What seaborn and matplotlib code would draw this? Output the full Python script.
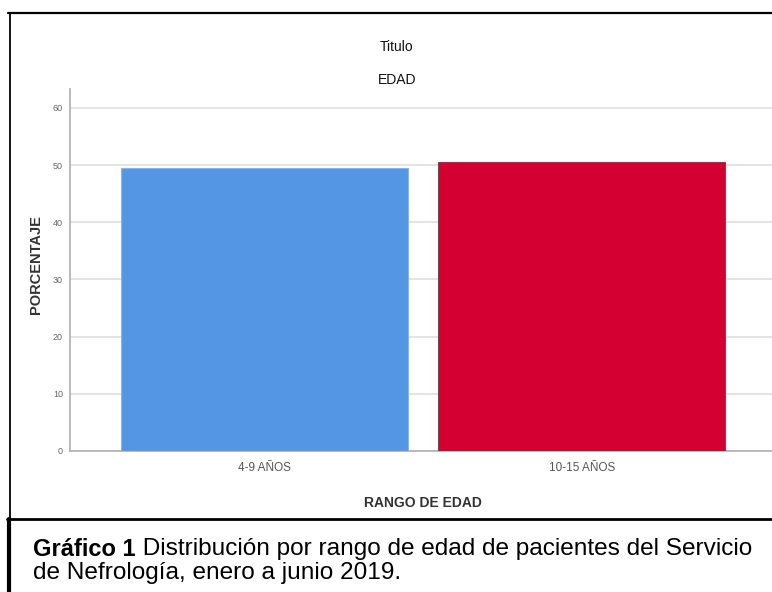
import matplotlib
matplotlib.use("Agg")
import matplotlib.pyplot as plt
import pandas as pd
import seaborn as sns
from matplotlib.lines import Line2D

# data
categorias = ["4-9 AÑOS", "10-15 AÑOS"]
porcentajes = [49.4, 50.6]
colores = ["#5596E4", "#D50032"]

W, H = 772, 592

def fx(px):
    return px / W

def fy(py):
    return 1 - py / H

sns.set_theme(style="white")
plt.rcParams["font.family"] = ["Liberation Sans", "DejaVu Sans"]

fig = plt.figure(figsize=(W / 100, H / 100), dpi=100)
ax = fig.add_axes([fx(70), fy(451), fx(776) - fx(70), fy(89) - fy(451)])

df = pd.DataFrame({"RANGO DE EDAD": categorias, "PORCENTAJE": porcentajes})
sns.barplot(data=df, x="RANGO DE EDAD", y="PORCENTAJE", hue="RANGO DE EDAD",
            palette=colores, saturation=1, width=0.905, legend=False, ax=ax, zorder=3)
for patch, ec in zip(ax.patches, ["#8fb3e0", "#6e4a50"]):
    patch.set_edgecolor(ec)
    patch.set_linewidth(0.8)

ax.set_xlim(-0.612, 1.612)
ax.set_ylim(0, 63.3)
ax.set_yticks([0, 10, 20, 30, 40, 50, 60])
ax.yaxis.grid(True, color="#dcdcdc", linewidth=1.1, zorder=0)
ax.set_axisbelow(True)
for s in ["top", "right"]:
    ax.spines[s].set_visible(False)
for s in ["left", "bottom"]:
    ax.spines[s].set_color("#b4b4b4")
    ax.spines[s].set_linewidth(1.3)
ax.tick_params(axis="y", length=0, pad=5, labelsize=6.5, labelcolor="#666666")
ax.tick_params(axis="x", length=0, pad=8, labelsize=8.5, labelcolor="#555555")

ax.set_xlabel("RANGO DE EDAD", fontsize=10, fontweight="bold", color="#333333", labelpad=16)
ax.set_ylabel("PORCENTAJE", fontsize=10.5, fontweight="bold", color="#333333", labelpad=7)
ax.yaxis.label.set_y(0.514)

fig.text(fx(397), fy(47), "Titulo", ha="center", va="center", fontsize=10, color="#111111")
fig.text(fx(397), fy(80), "EDAD", ha="center", va="center", fontsize=10, color="#111111")

# document frame around the chart
fig.add_artist(Line2D([fx(8), fx(772)], [fy(13), fy(13)], color="black", lw=1.6))
fig.add_artist(Line2D([fx(9.5), fx(9.5)], [fy(13), fy(519)], color="black", lw=1.3))
fig.add_artist(Line2D([fx(7), fx(772)], [fy(519), fy(519)], color="black", lw=2.0))
fig.add_artist(Line2D([fx(9), fx(9)], [fy(519), fy(592)], color="black", lw=3.0))

# caption
t1 = fig.text(fx(33), fy(549), "Gráfico 1", ha="left", va="center",
              fontsize=17, fontweight="bold", color="black")
fig.text(fx(33), fy(573), "de Nefrología, enero a junio 2019.", ha="left", va="center",
         fontsize=17.6, color="black")
ax.annotate(" Distribución por rango de edad de pacientes del Servicio",
            xy=(1, 0.5), xycoords=t1, ha="left", va="center",
            fontsize=17.6, color="black", annotation_clip=False)

fig.savefig("out.png", dpi=100)
